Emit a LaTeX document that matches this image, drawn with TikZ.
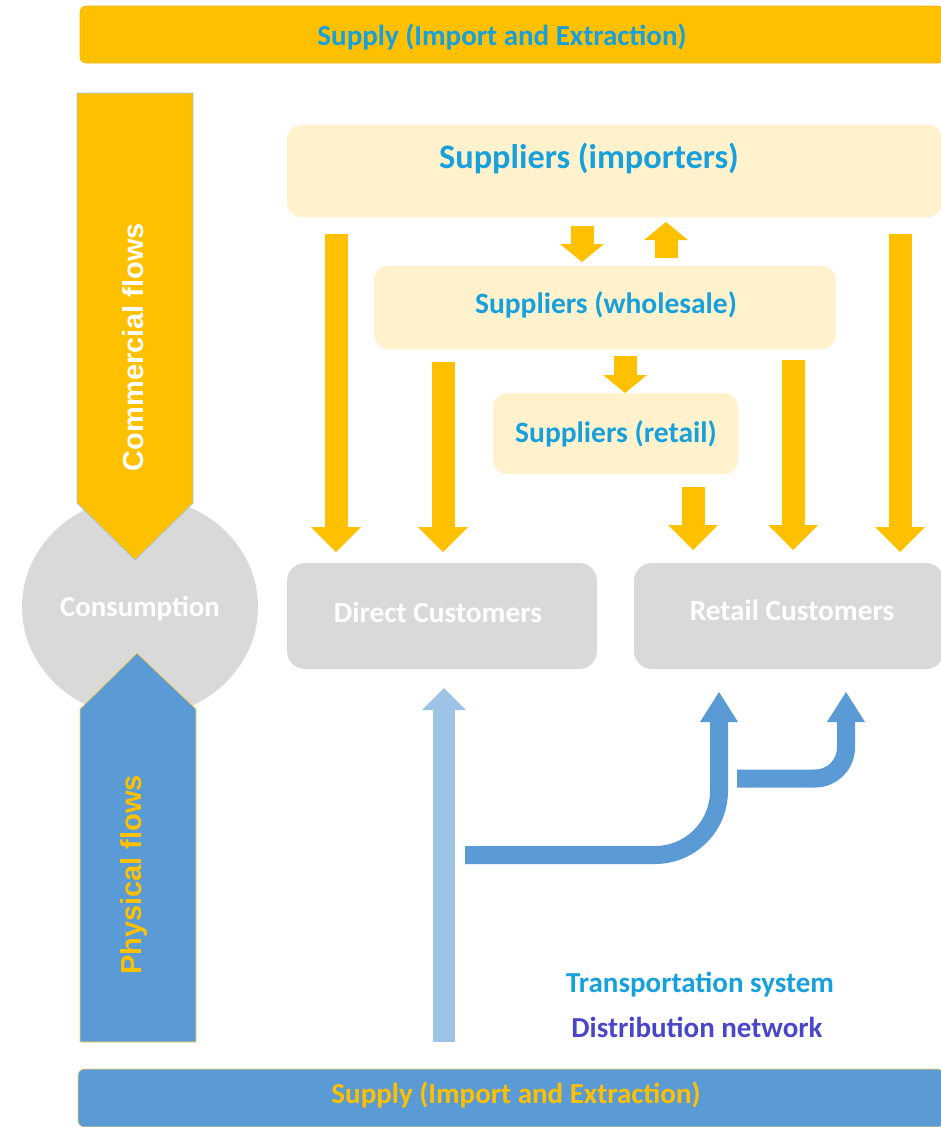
\documentclass[tikz,border=0pt]{standalone}
\usepackage{fontspec}
\setmainfont{Carlito}
\newfontfamily\arialfont{Liberation Sans}
\usetikzlibrary{arrows.meta,shapes.geometric}
\definecolor{gold}{HTML}{FFC000}
\definecolor{pale}{HTML}{FFF2CC}
\definecolor{greybox}{HTML}{D9D9D9}
\definecolor{midblue}{HTML}{5B9BD5}
\definecolor{lightblue}{HTML}{9DC3E6}
\definecolor{cyantext}{HTML}{16A0DC}
\definecolor{violettext}{HTML}{4A46C9}
\begin{document}
\begin{tikzpicture}[x=1pt,y=-1pt,
  bar/.style={rounded corners=6pt, inner sep=0pt},
  bartext/.style={inner sep=0pt, font=\bfseries\fontsize{29}{34}\selectfont},
  supbox/.style={fill=pale, rounded corners=14pt, inner sep=0pt},
  custbox/.style={fill=greybox, rounded corners=18pt, inner sep=0pt},
  suptext/.style={text=cyantext, font=\bfseries\fontsize{29.5}{34}\selectfont, inner sep=0pt},
  custtext/.style={text=white, font=\bfseries\fontsize{29.3}{34}\selectfont, inner sep=0pt},
  sidetext/.style={rotate=90, inner sep=0pt, font=\arialfont\bfseries\fontsize{29}{34}\selectfont},
  yarrow/.style={draw=gold, line width=23pt, -{Triangle[width=50pt,length=25pt,line width=0pt]}},
  ysmall/.style={draw=gold, line width=23pt, -{Triangle[width=44pt,length=18pt,line width=0pt]}},
  barrow/.style={draw=midblue, line width=18pt, -{Triangle[width=38pt,length=30pt,line width=0pt]}},
  larrow/.style={draw=lightblue, line width=22pt, -{Triangle[width=44pt,length=22pt,line width=0pt]}},
]
\useasboundingbox (0,0) rectangle (940,1127);

% top and bottom bars
\node[bar, fill=gold, draw=gold!85!gray, line width=0.6pt, minimum width=864pt, minimum height=57pt] (topbar) at (512,34.5) {};
\node[bartext, text=cyantext] (toptext) at (502,37) {Supply (Import and Extraction)};
\node[bar, fill=midblue, draw=gold!60, line width=0.7pt, minimum width=866pt, minimum height=58pt] (botbar) at (511,1098) {};
\node[bartext, text=gold] (bottext) at (516,1095) {Supply (Import and Extraction)};

% consumption
\node[ellipse, fill=greybox, minimum width=236pt, minimum height=220pt, inner sep=0pt] (cons) at (140,607) {};
\node[custtext, font=\bfseries\fontsize{28.8}{34}\selectfont] (constext) at (140,609) {Consumption};

% side flow arrows
\filldraw[fill=gold, draw=lightblue, line width=0.7pt] (77,93) -- (193,93) -- (193,503) -- (135,560) -- (77,503) -- cycle;
\node[sidetext, text=white] (comtext) at (133,347) {Commercial flows};
\filldraw[fill=midblue, draw=gold!70, line width=0.7pt] (80,1042) -- (196,1042) -- (196,709) -- (137,653) -- (80,709) -- cycle;
\node[sidetext, text=gold] (phytext) at (134,875) {Physical flows};

% supplier boxes
\node[supbox, minimum width=655pt, minimum height=92pt] (imp) at (614.5,171) {};
\node[suptext, font=\bfseries\fontsize{34.3}{40}\selectfont] (imptext) at (589,158) {Suppliers (importers)};
\node[supbox, minimum width=462pt, minimum height=83pt] (whs) at (605,307.5) {};
\node[suptext] (whstext) at (606,305) {Suppliers (wholesale)};
\node[supbox, minimum width=245pt, minimum height=81pt] (ret) at (615.5,433.5) {};
\node[suptext] (rettext) at (616,434) {Suppliers (retail)};

% customer boxes
\node[custbox, minimum width=310pt, minimum height=106pt] (dc) at (442,616) {};
\node[custtext] (dctext) at (438,612) {Direct Customers};
\node[custbox, minimum width=310pt, minimum height=106pt] (rc) at (789,616) {};
\node[custtext] (rctext) at (792,610) {Retail Customers};

% coordinates of commercial arrows
\coordinate (a1s) at (336,234); \coordinate (a1e) at (336,552);
\coordinate (a2s) at (443,362); \coordinate (a2e) at (443,552);
\coordinate (a3s) at (693,487); \coordinate (a3e) at (693,550);
\coordinate (a4s) at (793,360); \coordinate (a4e) at (793,550);
\coordinate (a5s) at (900,234); \coordinate (a5e) at (900,552);
\draw[yarrow] (a1s) -- (a1e);
\draw[yarrow] (a2s) -- (a2e);
\draw[yarrow] (a3s) -- (a3e);
\draw[yarrow] (a4s) -- (a4e);
\draw[yarrow] (a5s) -- (a5e);

\coordinate (s1s) at (582,226); \coordinate (s1e) at (582,262);
\coordinate (s2s) at (666,258); \coordinate (s2e) at (666,222);
\coordinate (s3s) at (625,356); \coordinate (s3e) at (625,393);
\draw[ysmall] (s1s) -- (s1e);
\draw[ysmall] (s2s) -- (s2e);
\draw[ysmall] (s3s) -- (s3e);

% physical arrows
\coordinate (l1s) at (444,1042); \coordinate (l1e) at (444,688);
\draw[larrow] (l1s) -- (l1e);
\coordinate (b1s) at (465,855); \coordinate (b1c) at (719,855); \coordinate (b1e) at (719,692);
\draw[barrow, rounded corners=64pt] (b1s) -- (b1c) -- (b1e);
\coordinate (b2s) at (737,778.5); \coordinate (b2c) at (846,778.5); \coordinate (b2e) at (846,692);
\draw[barrow, rounded corners=31pt] (b2s) -- (b2c) -- (b2e);

% legend
\node[suptext, font=\bfseries\fontsize{29}{34}\selectfont] (trans) at (700,985) {Transportation system};
\node[suptext, text=violettext, font=\bfseries\fontsize{29}{34}\selectfont] (distr) at (697,1027) {Distribution network};
\end{tikzpicture}
\end{document}
